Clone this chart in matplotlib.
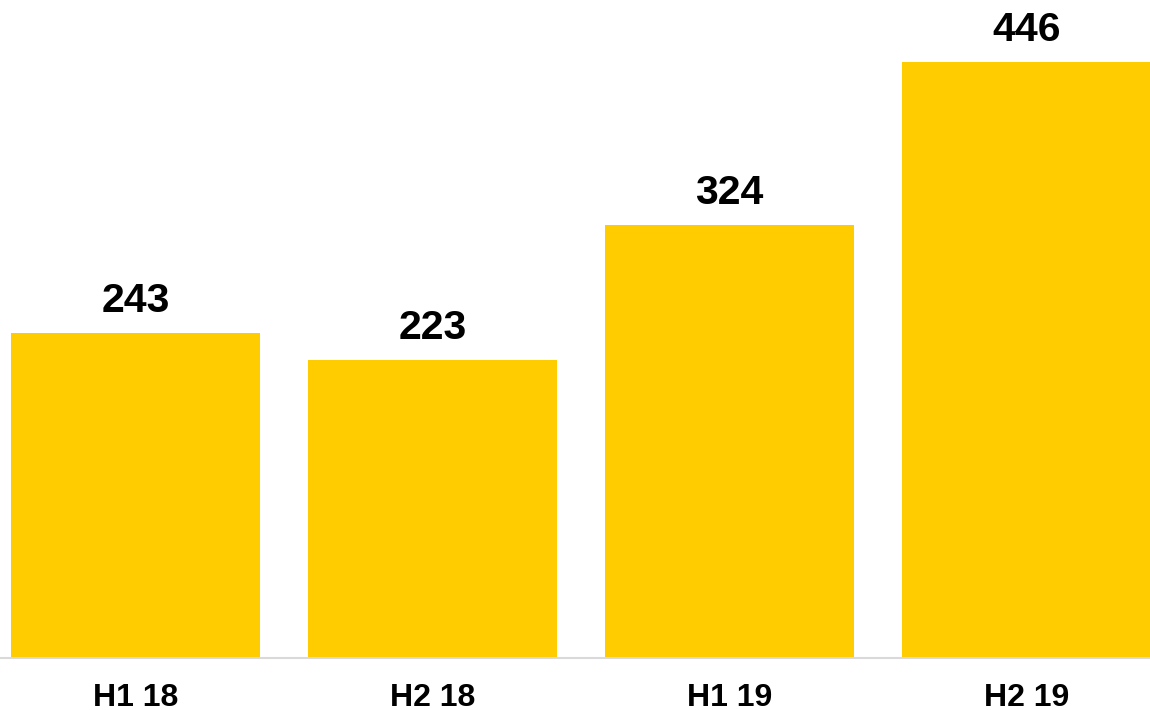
import matplotlib.pyplot as plt
import numpy as np

periods = ['H1 18', 'H2 18', 'H1 19', 'H2 19']
values = [243, 223, 324, 446]

bar_color = '#FFCC00'

fig = plt.figure(figsize=(11.5, 7.1), dpi=100)
ax = fig.add_axes([0, (710 - 657.5) / 710, 1, 657.5 / 710])

x = np.arange(len(periods))
bars = ax.bar(x, values, width=0.838, color=bar_color, zorder=2)

# value labels above each bar
for xi, v in zip(x, values):
    ax.annotate(str(v), (xi, v), xytext=(0, 13), textcoords='offset pixels',
                ha='center', va='bottom', fontsize=29.5, fontweight='bold',
                family='Liberation Sans', color='black')

ax.set_xlim(-135.5 / 297, (1150 - 135.5) / 297)
ax.set_ylim(0, 657.5 / (595.5 / 446))

ax.set_xticks(x)
ax.set_xticklabels(periods, fontsize=23, fontweight='bold', family='Liberation Sans')
ax.tick_params(axis='x', length=0, pad=18)
ax.set_yticks([])

for side in ['top', 'right', 'left']:
    ax.spines[side].set_visible(False)
ax.spines['bottom'].set_color('#D9D9D9')
ax.spines['bottom'].set_linewidth(1.5)

fig.savefig('out.png', dpi=100)
